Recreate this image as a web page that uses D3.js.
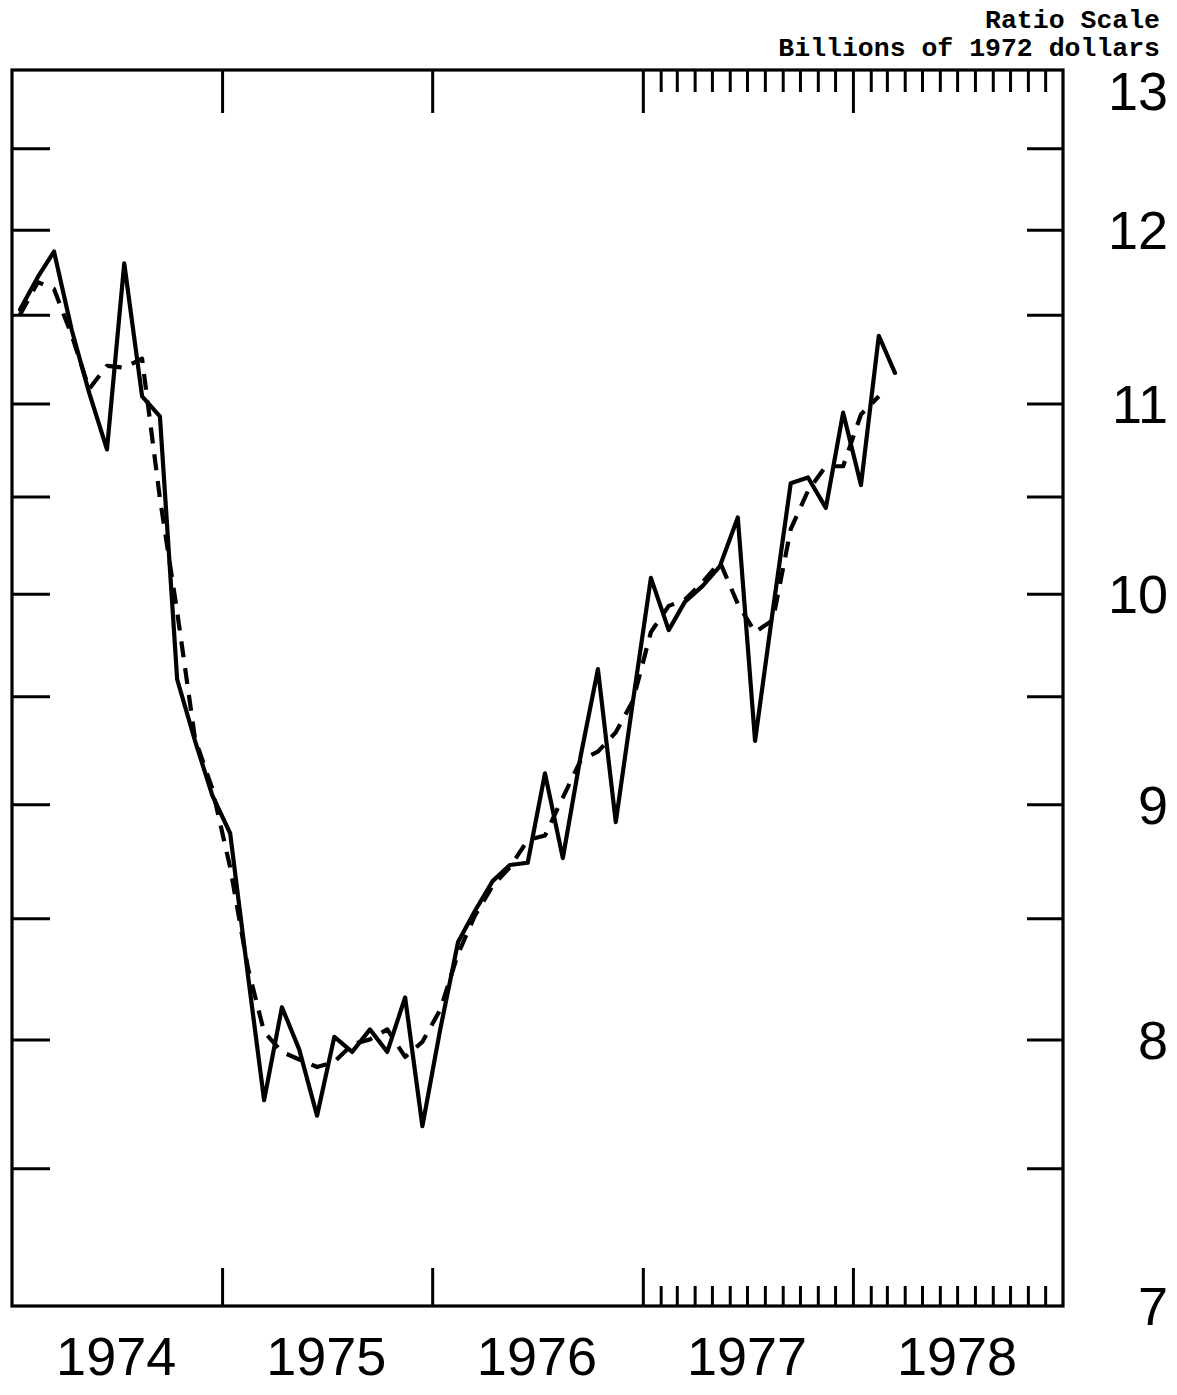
<!DOCTYPE html>
<html>
<head>
<meta charset="utf-8">
<script src="https://cdn.jsdelivr.net/npm/d3@7"></script>
<style>
    html, body { margin: 0; padding: 0; background: #fff; }
    svg { display: block; }
    .axis .domain { display: none; }
    .axis line { stroke: #000; stroke-width: 3; }
    .frame { fill: none; stroke: #000; stroke-width: 3.2; }
    .line { fill: none; stroke: #000; stroke-width: 4.2; stroke-linejoin: round; stroke-linecap: round; }
    .line.trend { stroke-dasharray: 16 11; stroke-linecap: butt; }
    .num { font-family: "Liberation Sans", Arial, sans-serif; font-size: 54px; fill: #000; }
    .units { font-family: "Liberation Mono", monospace; font-weight: bold; font-size: 26.5px; fill: #000; }
</style>
</head>
<body>
<div id="chart"></div>
<script>

// monthly observations, Jan 1974 - Mar 1978
var months = [
    '1974-01', '1974-02', '1974-03', '1974-04', '1974-05', '1974-06',
    '1974-07', '1974-08', '1974-09', '1974-10', '1974-11', '1974-12',
    '1975-01', '1975-02', '1975-03', '1975-04', '1975-05', '1975-06',
    '1975-07', '1975-08', '1975-09', '1975-10', '1975-11', '1975-12',
    '1976-01', '1976-02', '1976-03', '1976-04', '1976-05', '1976-06',
    '1976-07', '1976-08', '1976-09', '1976-10', '1976-11', '1976-12',
    '1977-01', '1977-02', '1977-03', '1977-04', '1977-05', '1977-06',
    '1977-07', '1977-08', '1977-09', '1977-10', '1977-11', '1977-12',
    '1978-01', '1978-02', '1978-03'
];

// solid line
var actual = [
    11.53, 11.72, 11.87, 11.41, 11.06, 10.75, 11.80, 11.04, 10.93, 9.58, 9.29, 9.04,
    8.87, 8.26, 7.76, 8.13, 7.96, 7.70, 8.01, 7.95, 8.04, 7.95, 8.17, 7.66,
    8.04, 8.40, 8.53, 8.66, 8.73, 8.74, 9.14, 8.76, 9.22, 9.63, 8.92, 9.48,
    10.08, 9.82, 9.96, 10.04, 10.14, 10.39, 9.29, 9.92, 10.57, 10.60, 10.44, 10.95,
    10.56, 11.38, 11.17
];

// dashed line (ends one month earlier)
var trend = [
    11.50, 11.69, 11.65, 11.38, 11.08, 11.21, 11.20, 11.25, 10.49, 9.91, 9.30, 9.07,
    8.72, 8.29, 8.03, 7.95, 7.92, 7.89, 7.91, 7.98, 8.00, 8.04, 7.93, 7.99,
    8.12, 8.35, 8.51, 8.64, 8.72, 8.84, 8.86, 9.03, 9.20, 9.24, 9.33, 9.48,
    9.81, 9.94, 9.97, 10.06, 10.16, 9.95, 9.81, 9.87, 10.33, 10.53, 10.66, 10.66,
    10.94, 11.04
];

var yTicks = [7.5, 8, 8.5, 9, 9.5, 10, 10.5, 11, 11.5, 12, 12.5];
var yLabels = [13, 12, 11, 10, 9, 8, 7];
var yearTicks = ['1975', '1976', '1977', '1978'];
var yearLabels = ['1974', '1975', '1976', '1977', '1978'];
var monthTickRange = ['1977-01', '1979-01'];
var unitLines = ['Ratio Scale', 'Billions of 1972 dollars'];


class RatioChart {


    constructor(config) {

        this._config = config;
        this._width = 1177;
        this._height = 1395;

        this._margin = {
            left: 12,
            top: 70,
            right: 114,
            bottom: 89
        };

        this._parseMonth = d3.timeParse('%Y-%m');
        this._parseYear = d3.timeParse('%Y');
    }


    renderTo(selector) {

        var x = this._getXScale();
        var y = this._getYScale();
        var w = this._getInnerWidth();
        var h = this._getInnerHeight();

        this._svg = d3.select(selector)
            .append('svg')
            .attr('width', this._width)
            .attr('height', this._height);

        var canvas = this._svg.append('g')
            .attr('transform', 'translate(' + [this._margin.left, this._margin.top] + ')');

        // header, right aligned
        this._svg.selectAll('text.units')
            .data(unitLines)
            .enter()
            .append('text')
            .attr('class', 'units')
            .attr('text-anchor', 'end')
            .attr('x', 1160)
            .attr('y', (d, i) => 28 + i * 28)
            .text(d => d);

        canvas.append('rect')
            .attr('class', 'frame')
            .attr('width', w)
            .attr('height', h);

        // y ticks pointing inward from both sides
        canvas.append('g')
            .attr('class', 'axis')
            .call(d3.axisRight(y).tickValues(yTicks).tickSize(38).tickFormat(''));

        canvas.append('g')
            .attr('class', 'axis')
            .attr('transform', 'translate(' + w + ',0)')
            .call(d3.axisLeft(y).tickValues(yTicks).tickSize(36).tickFormat(''));

        // year ticks top and bottom, month ticks over the last two years
        var years = yearTicks.map(this._parseYear);
        var minor = d3.timeMonth
            .range(this._parseMonth(monthTickRange[0]), this._parseMonth(monthTickRange[1]))
            .filter(d => d.getMonth() !== 0);

        canvas.append('g')
            .attr('class', 'axis')
            .call(d3.axisBottom(x).tickValues(years).tickSize(43).tickFormat(''));

        canvas.append('g')
            .attr('class', 'axis')
            .call(d3.axisBottom(x).tickValues(minor).tickSize(22).tickFormat(''));

        canvas.append('g')
            .attr('class', 'axis')
            .attr('transform', 'translate(0,' + h + ')')
            .call(d3.axisTop(x).tickValues(years).tickSize(38).tickFormat(''));

        canvas.append('g')
            .attr('class', 'axis')
            .attr('transform', 'translate(0,' + h + ')')
            .call(d3.axisTop(x).tickValues(minor).tickSize(20).tickFormat(''));

        // right hand value labels
        canvas.selectAll('text.ylabel')
            .data(yLabels)
            .enter()
            .append('text')
            .attr('class', 'num ylabel')
            .attr('text-anchor', 'end')
            .attr('x', w + 105)
            .attr('y', d => Math.max(y(d), 21))
            .attr('dy', '0.36em')
            .text(d => d);

        // year labels centred in each year
        canvas.selectAll('text.xlabel')
            .data(yearLabels)
            .enter()
            .append('text')
            .attr('class', 'num xlabel')
            .attr('text-anchor', 'middle')
            .attr('x', d => x(d3.timeMonth.offset(this._parseYear(d), 6)))
            .attr('y', h + 69)
            .text(d => d);

        canvas.append('path')
            .datum(trend)
            .attr('class', 'line trend')
            .attr('d', this._getLineGenerator());

        canvas.append('path')
            .datum(actual)
            .attr('class', 'line')
            .attr('d', this._getLineGenerator());

        return this;
    }


    _getLineGenerator() {

        var x = this._getXScale();
        var y = this._getYScale();
        var parse = this._parseMonth;

        // points sit mid-month
        return d3.line()
            .x((d, i) => x(d3.timeDay.offset(parse(months[i]), 14)))
            .y(d => y(d));
    }


    _getXScale() {

        var first = this._parseYear(yearLabels[0]);
        var last = d3.timeYear.offset(this._parseYear(yearLabels[yearLabels.length - 1]), 1);

        return d3.scaleTime()
            .domain([first, last])
            .range([0, this._getInnerWidth()]);
    }


    _getYScale() {

        return d3.scaleLog()
            .domain([d3.min(yLabels), d3.max(yLabels)])
            .range([this._getInnerHeight(), 0]);
    }


    _getInnerWidth() {

        return this._width - this._margin.left - this._margin.right;
    }


    _getInnerHeight() {

        return this._height - this._margin.top - this._margin.bottom;
    }
}


new RatioChart({}).renderTo('#chart');

</script>
</body>
</html>
